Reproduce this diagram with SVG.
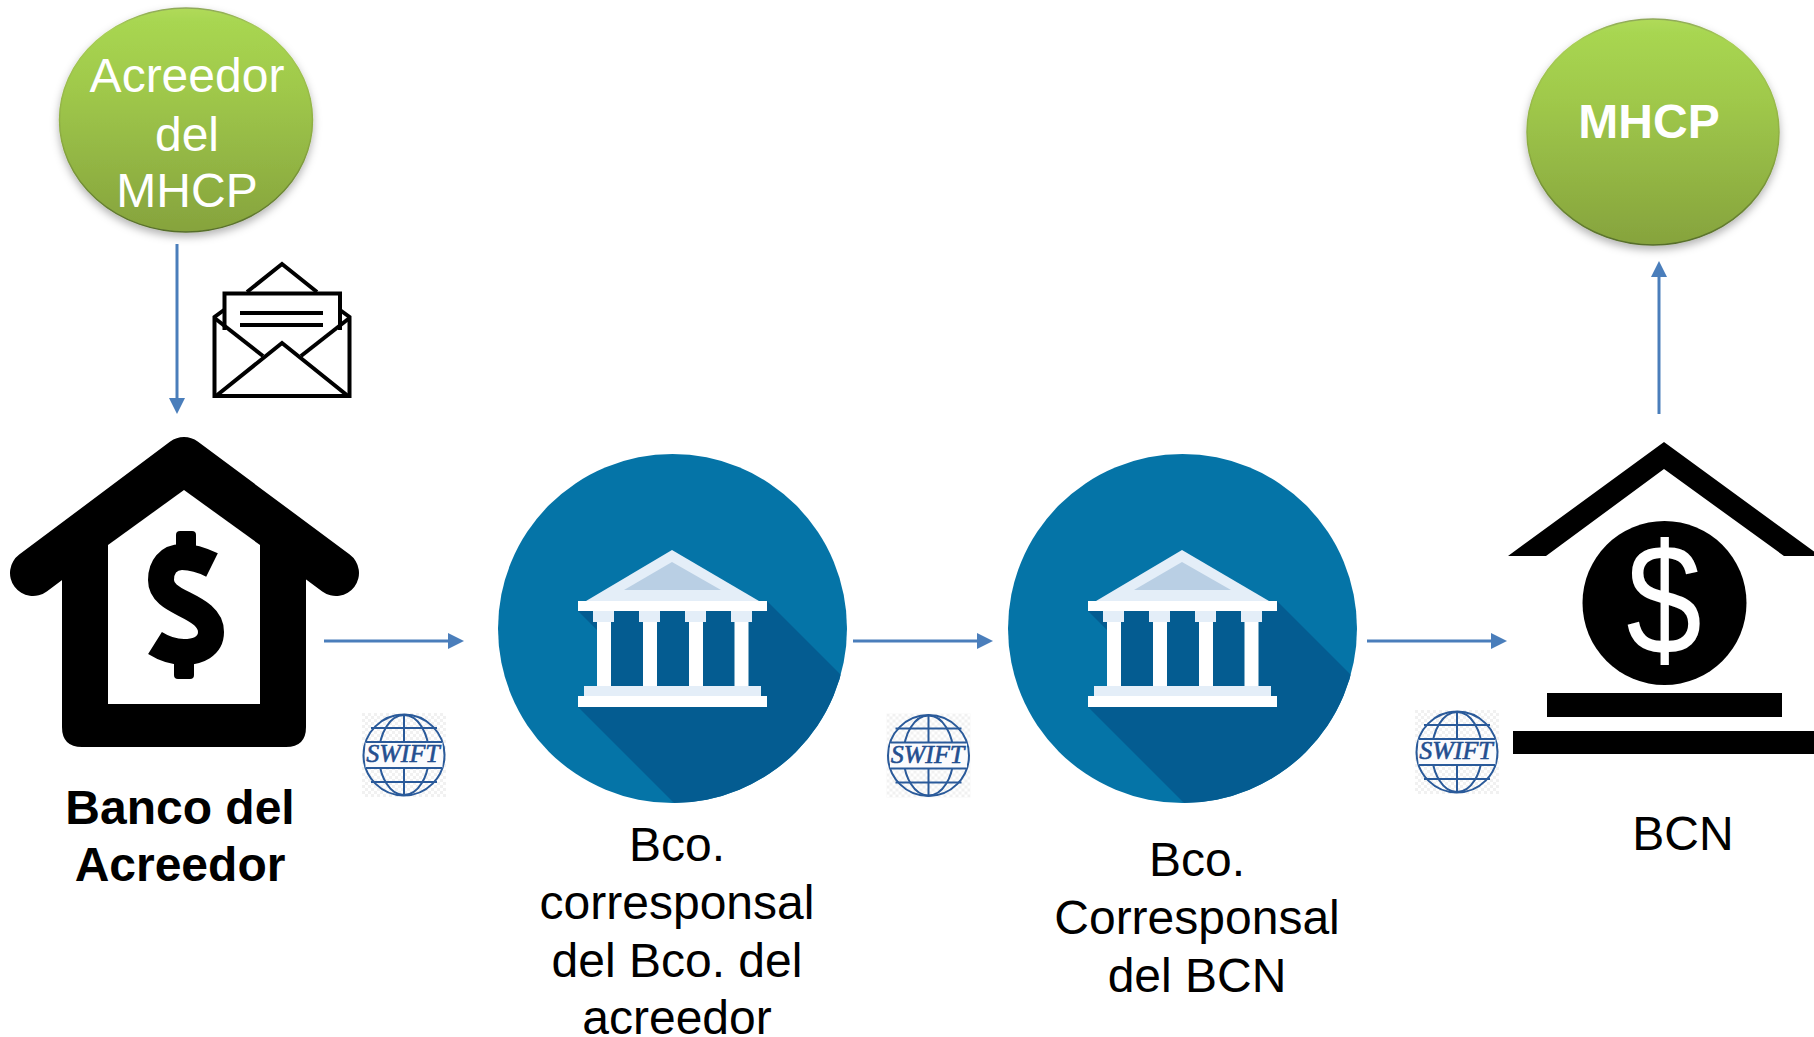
<svg xmlns="http://www.w3.org/2000/svg" xmlns:xlink="http://www.w3.org/1999/xlink" width="1814" height="1037" viewBox="0 0 1814 1037">
<style>
text{font-family:"Liberation Sans",Arial,sans-serif;text-anchor:middle}
.lbl{font-size:48px;fill:#000}
.bold{font-size:48px;font-weight:700;fill:#000}
.oval{fill:url(#green);stroke:url(#rim);stroke-width:1.5;filter:url(#soft)}
.conn{fill:none;stroke:#4a7ebb;stroke-width:3;marker-end:url(#head)}
.sw{font-family:"Liberation Serif","Times New Roman",serif;font-style:italic;font-size:26px;fill:#244f90;stroke:#244f90;stroke-width:.6}
.gl{fill:none;stroke:#2a5a9a;stroke-width:2}
.env{fill:none;stroke:#000;stroke-width:4;stroke-linejoin:miter}
</style>
<defs>
<linearGradient id="green" x1="0" y1="0" x2="0" y2="1">
<stop offset="0" stop-color="#b0da5a"/><stop offset=".06" stop-color="#a8d651"/><stop offset=".35" stop-color="#a0c94b"/><stop offset="1" stop-color="#86a33d"/>
</linearGradient>
<linearGradient id="rim" x1="0" y1="0" x2="0" y2="1">
<stop offset="0" stop-color="#8fa85a"/><stop offset=".1" stop-color="#a9cf55"/><stop offset=".6" stop-color="#8aa940"/><stop offset="1" stop-color="#566d2b"/>
</linearGradient>
<filter id="soft" x="-10%" y="-10%" width="120%" height="125%"><feDropShadow dx="0" dy="4" stdDeviation="4" flood-color="#000" flood-opacity=".3"/></filter>
<marker id="head" markerUnits="userSpaceOnUse" markerWidth="16" markerHeight="16" refX="8" refY="8" orient="auto"><polygon points="0,0 16,8 0,16" fill="#4a7ebb"/></marker>
<pattern id="chk" width="6" height="6" patternUnits="userSpaceOnUse"><rect width="6" height="6" fill="#fff"/><rect width="3" height="3" fill="#f1f1f1"/><rect x="3" y="3" width="3" height="3" fill="#f1f1f1"/></pattern>
<clipPath id="disc"><circle cx="672.5" cy="628.5" r="174.5"/></clipPath>
<g id="bank">
<circle cx="672.5" cy="628.5" r="174.5" fill="#0574a7"/>
<polygon clip-path="url(#disc)" points="767,601 1000,834 1000,850 721,850 578,707 578,696 597,696 597,630 578,611" fill="#045c91"/>
<polygon points="672,550 759,601 586,601" fill="#e4eef8"/>
<polygon points="672,562 721,590 624,590" fill="#b9cfe4"/>
<g fill="#e4eef8">
<rect x="593" y="611" width="21" height="11"/><rect x="639" y="611" width="21" height="11"/><rect x="685" y="611" width="21" height="11"/><rect x="731" y="611" width="21" height="11"/>
<rect x="584" y="686" width="177" height="10"/>
</g>
<g fill="#fff">
<rect x="578" y="601" width="189" height="10"/>
<rect x="597" y="622" width="14" height="64"/><rect x="643" y="622" width="14" height="64"/><rect x="689" y="622" width="14" height="64"/><rect x="734.500" y="622" width="14" height="64"/>
<rect x="578" y="696" width="189" height="11"/>
</g>
</g>
<g id="globe">
<rect x="-42" y="-42" width="84" height="84" fill="url(#chk)"/>
<circle r="40.500" fill="#fbfbfd" class="gl"/>
<line x1="0" y1="-40" x2="0" y2="40" class="gl"/>
<ellipse rx="25" ry="40" class="gl"/>
<line x1="-33" y1="-27" x2="33" y2="-27" class="gl"/>
<line x1="-33" y1="27" x2="33" y2="27" class="gl"/>
<rect x="-38.500" y="-13" width="77" height="26" fill="#fbfbfd"/>
<line x1="-38.500" y1="-13" x2="38.500" y2="-13" class="gl"/>
<line x1="-38.500" y1="13" x2="38.500" y2="13" class="gl"/>
</g>
</defs>
<rect width="1814" height="1037" fill="#fff"/>

<g id="acreedor-mhcp">
<ellipse class="oval" cx="186" cy="120" rx="126.500" ry="112"/>
<text x="187" y="92" class="lbl" style="fill:#fff">Acreedor</text>
<text x="187" y="151" class="lbl" style="fill:#fff">del</text>
<text x="187" y="207" class="lbl" style="fill:#fff">MHCP</text>
</g>

<g id="mhcp">
<ellipse class="oval" cx="1653" cy="132" rx="126" ry="113"/>
<text x="1649" y="138" class="bold" style="fill:#fff">MHCP</text>
</g>

<g id="envelope" class="env">
<polyline points="247,292 282,264 317,292"/>
<polyline points="224.500,330 224.500,293.500 340,293.500 340,330"/>
<line x1="240" y1="313" x2="323" y2="313"/>
<line x1="240" y1="325" x2="323" y2="325"/>
<polyline points="224,310 214.500,317 214.500,396 349.500,396 349.500,317 340,310"/>
<line x1="214.500" y1="318" x2="263" y2="356"/>
<line x1="349.500" y1="318" x2="301" y2="356"/>
<polyline points="216,396 282,343 348,396"/>
</g>

<g id="banco-acreedor">
<path d="M62,555 L184,465 L306,555 V727 Q306,747 286,747 H82 Q62,747 62,727 Z" fill="#000"/>
<polyline points="33,573 184,460 336,573" fill="none" stroke="#000" stroke-width="46" stroke-linecap="round" stroke-linejoin="round"/>
<polygon points="184,490 260,545 260,704 108,704 108,545" fill="#fff"/>
<path d="M212,565 C200,559 190,557 182,557 C168,557 161,567 161,580 C161,592 172,598 184,604 C198,611 211,618 211,632 C211,646 198,652 184,652 C173,652 163,648 155,643" fill="none" stroke="#000" stroke-width="26"/>
<rect x="176" y="531" width="20" height="24" rx="4" fill="#000"/>
<rect x="174" y="655" width="20" height="24" rx="4" fill="#000"/>
<text x="180" y="824" class="bold">Banco del</text>
<text x="180" y="881" class="bold">Acreedor</text>
</g>

<g id="bco-corresponsal-acreedor">
<use href="#bank"/>
<text x="677" y="861" class="lbl">Bco.</text>
<text x="677" y="919" class="lbl">corresponsal</text>
<text x="677" y="977" class="lbl">del Bco. del</text>
<text x="677" y="1034" class="lbl">acreedor</text>
</g>

<g id="bco-corresponsal-bcn">
<use href="#bank" x="510"/>
<text x="1197" y="876" class="lbl">Bco.</text>
<text x="1197" y="934" class="lbl">Corresponsal</text>
<text x="1197" y="992" class="lbl">del BCN</text>
</g>

<g id="bcn">
<polygon points="1664,442 1814,551.600 1814,556 1784,556 1664,469 1546,556 1508,556" fill="#000"/>
<circle cx="1664.500" cy="603" r="82" fill="#000"/>
<text transform="translate(1664,654) scale(.86,1)" style="font-size:158px;fill:#fff">$</text>
<rect x="1547" y="693" width="235" height="24" fill="#000"/>
<rect x="1513" y="731" width="301" height="23" fill="#000"/>
<text x="1683" y="850" class="lbl">BCN</text>
</g>

<g id="swift-1">
<use href="#globe" transform="translate(404,755)"/>
<text x="403" y="762" class="sw">SWIFT</text>
</g>
<g id="swift-2">
<use href="#globe" transform="translate(928.500,755.500)"/>
<text x="927.500" y="762.500" class="sw">SWIFT</text>
</g>
<g id="swift-3">
<use href="#globe" transform="translate(1457,752)"/>
<text x="1456" y="759" class="sw">SWIFT</text>
</g>

<g id="connectors">
<line class="conn" x1="177" y1="244" x2="177" y2="406"/>
<line class="conn" x1="324" y1="641" x2="456" y2="641"/>
<line class="conn" x1="853" y1="641" x2="985" y2="641"/>
<line class="conn" x1="1367" y1="641" x2="1499" y2="641"/>
<line class="conn" x1="1659" y1="414" x2="1659" y2="269"/>
</g>
</svg>
